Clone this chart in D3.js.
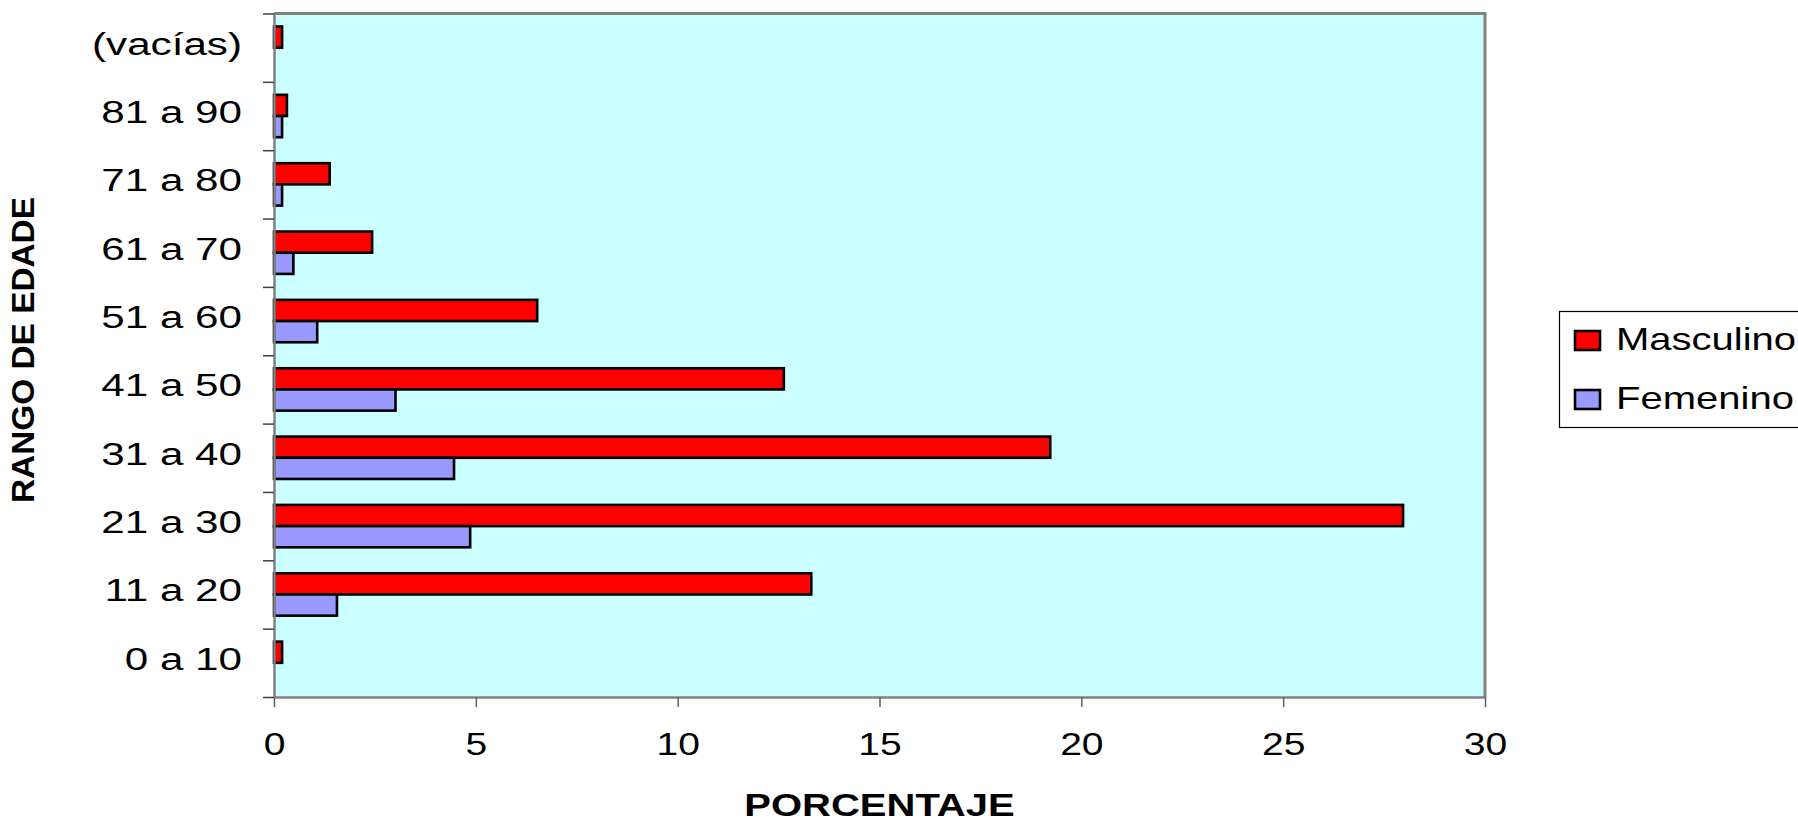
<!DOCTYPE html>
<html>
<head>
<meta charset="utf-8">
<script src="https://cdn.jsdelivr.net/npm/d3@7"></script>
<style>
  html, body { margin: 0; padding: 0; background: #ffffff; overflow: hidden; }
  svg { display: block; font-family: Arial, "Liberation Sans", sans-serif; }
</style>
</head>
<body>
<svg id="chart" width="1798" height="822"></svg>
<script>
// ---- data ----
const categories = ["(vacías)", "81 a 90", "71 a 80", "61 a 70", "51 a 60", "41 a 50", "31 a 40", "21 a 30", "11 a 20", "0 a 10"];
const seriesNames = ["Masculino", "Femenino"];
const masculino = [0.2, 0.32, 1.38, 2.43, 6.52, 12.63, 19.23, 27.97, 13.31, 0.2];
const femenino  = [0,   0.2,  0.2,  0.48, 1.07, 3.01,  4.46,  4.86,  1.56,  0];
const xTicks = [0, 5, 10, 15, 20, 25, 30];
const xTitle = "PORCENTAJE";
const yTitle = "RANGO DE EDADE";
const colors = ["#FF0000", "#9999FF"];

(function () {
const svg = d3.select("#chart");
const pLeft = 274, pRight = 1485, pTop = 13.5, pBottom = 697;

function stretch(sel, f) {
  sel.each(function () {
    const L = this.getComputedTextLength();
    d3.select(this).attr("textLength", L * f).attr("lengthAdjust", "spacingAndGlyphs");
  });
}

const x = d3.scaleLinear().domain([0, 30]).range([pLeft, pRight]);
const y = d3.scaleBand().domain(categories).range([pTop, pBottom]).paddingInner(0.38).paddingOuter(0.19);
const ySub = d3.scaleBand().domain(seriesNames).range([0, y.bandwidth()]);
const yEdge = d3.scaleLinear().domain([0, categories.length]).range([pTop, pBottom]);

// plot background
svg.append("rect").attr("x", pLeft).attr("y", pTop).attr("width", pRight - pLeft).attr("height", pBottom - pTop)
  .attr("fill", "#CCFFFF");
// top and right border
svg.append("path").attr("d", `M${pLeft},${pTop}H${pRight}V${pBottom}`).attr("fill", "none")
  .attr("stroke", "#808080").attr("stroke-width", 3);

// bars
const rows = categories.map((c, i) => ({ cat: c, vals: [masculino[i], femenino[i]] }));
const g = svg.append("g");
rows.forEach(r => {
  r.vals.forEach((v, j) => {
    if (v <= 0) return;
    g.append("rect")
      .attr("x", x(0))
      .attr("y", y(r.cat) + ySub(seriesNames[j]))
      .attr("width", x(v) - x(0))
      .attr("height", ySub.bandwidth())
      .attr("fill", colors[j])
      .attr("stroke", "#000").attr("stroke-width", 2.6);
  });
});

// x axis
const xAxis = svg.append("g").attr("transform", `translate(0,${pBottom})`)
  .call(d3.axisBottom(x).tickValues(xTicks).tickSize(10).tickSizeOuter(0).tickFormat(d3.format("d")));
xAxis.select(".domain").attr("stroke", "#808080").attr("stroke-width", 2.5);
xAxis.selectAll(".tick line").attr("stroke", "#606060").attr("stroke-width", 1.5);
const xt = xAxis.selectAll(".tick text")
  .attr("y", 58).attr("dy", 0)
  .attr("font-size", 32).attr("fill", "#000")
  .attr("font-family", "Arial, 'Liberation Sans', sans-serif");
stretch(xt, 1.22);

// y axis (ticks at category boundaries)
const yAxis = svg.append("g").attr("transform", `translate(${pLeft},0)`)
  .call(d3.axisLeft(yEdge).ticks(categories.length).tickSize(11).tickSizeOuter(0).tickFormat(""));
yAxis.select(".domain").attr("stroke", "#808080").attr("stroke-width", 2.5);
yAxis.selectAll(".tick line").attr("stroke", "#404040").attr("stroke-width", 1.5);

// category labels
const cl = svg.append("g").selectAll("text").data(categories).join("text")
  .attr("x", 242)
  .attr("y", d => y(d) + y.bandwidth() / 2 + 7)
  .attr("text-anchor", "end")
  .attr("font-size", 31).attr("fill", "#000")
  .text(d => d);
stretch(cl, 1.36);

// axis titles
const xtl = svg.append("text").attr("x", (pLeft + pRight) / 2).attr("y", 816)
  .attr("text-anchor", "middle").attr("font-size", 31).attr("font-weight", "bold")
  .attr("fill", "#000").text(xTitle);
stretch(xtl, 1.29);

svg.append("text").attr("transform", "translate(34,350) rotate(-90)")
  .attr("text-anchor", "middle").attr("font-size", 31).attr("font-weight", "bold")
  .attr("textLength", 306).attr("lengthAdjust", "spacingAndGlyphs")
  .attr("fill", "#000").text(yTitle);

// legend
const lg = svg.append("g");
lg.append("rect").attr("x", 1559.5).attr("y", 311.5).attr("width", 300).attr("height", 116)
  .attr("fill", "#fff").attr("stroke", "#000").attr("stroke-width", 1.2);
seriesNames.forEach((s, j) => {
  const yy = 331 + j * 59;
  lg.append("rect").attr("x", 1575).attr("y", yy).attr("width", 25).attr("height", 19)
    .attr("fill", colors[j]).attr("stroke", "#000").attr("stroke-width", 2.6);
  const t = lg.append("text").attr("x", 1616).attr("y", yy + 19)
    .attr("font-size", 32).attr("fill", "#000").text(s);
  stretch(t, 1.25);
});
})();
</script>
</body>
</html>
